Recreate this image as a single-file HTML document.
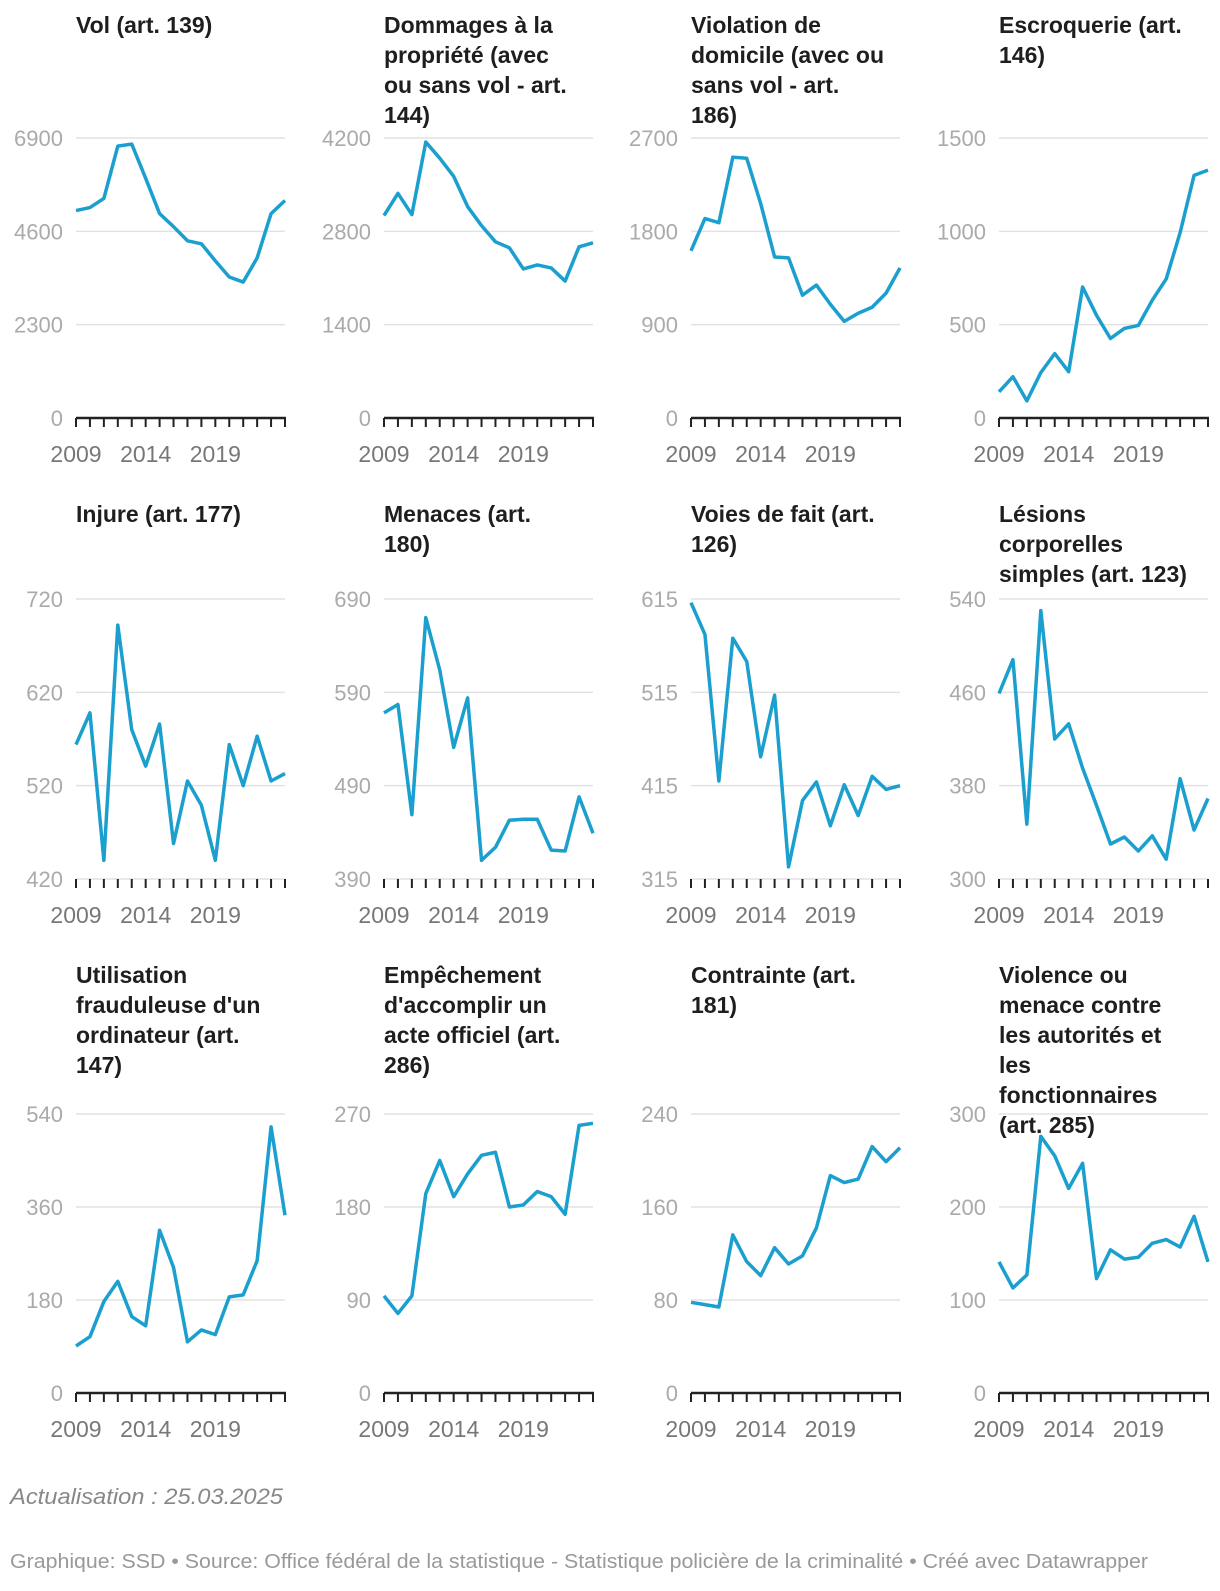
<!DOCTYPE html>
<html><head><meta charset="utf-8"><style>
body{margin:0;background:#fff;width:1220px;height:1586px;overflow:hidden;font-family:"Liberation Sans",sans-serif}
svg text{font-family:"Liberation Sans",sans-serif}
</style></head><body>
<svg id="chart" width="1220" height="1586" xmlns="http://www.w3.org/2000/svg">
<text x="10" y="1504" font-size="22" font-style="italic" fill="#888" textLength="273" lengthAdjust="spacingAndGlyphs">Actualisation : 25.03.2025</text>
<text x="10" y="1568" font-size="20" fill="#999" textLength="1138" lengthAdjust="spacingAndGlyphs">Graphique: SSD • Source: Office fédéral de la statistique - Statistique policière de la criminalité • Créé avec Datawrapper</text>
</svg>
<script>
const years=[2009,2010,2011,2012,2013,2014,2015,2016,2017,2018,2019,2020,2021,2022,2023,2024];
const yearLabels=[2009,2014,2019];
const titles=[
["Vol (art. 139)"],
["Dommages à la","propriété (avec","ou sans vol - art.","144)"],
["Violation de","domicile (avec ou","sans vol - art.","186)"],
["Escroquerie (art.","146)"],
["Injure (art. 177)"],
["Menaces (art.","180)"],
["Voies de fait (art.","126)"],
["Lésions","corporelles","simples (art. 123)"],
["Utilisation","frauduleuse d'un","ordinateur (art.","147)"],
["Empêchement","d'accomplir un","acte officiel (art.","286)"],
["Contrainte (art.","181)"],
["Violence ou","menace contre","les autorités et","les","fonctionnaires","(art. 285)"]];
const ticks=[[0,2300,4600,6900],[0,1400,2800,4200],[0,900,1800,2700],[0,500,1000,1500],
[420,520,620,720],[390,490,590,690],[315,415,515,615],[300,380,460,540],
[0,180,360,540],[0,90,180,270],[0,80,160,240],[0,100,200,300]];
const vol=[5112,5186,5410,6700,6750,5906,5037,4715,4367,4293,3871,3474,3350,3945,5037,5360];
const dommages=[3036,3369,3051,4139,3897,3625,3172,2885,2643,2553,2236,2296,2251,2054,2568,2628];
const violation=[1612,1923,1883,2515,2505,2068,1553,1544,1184,1282,1097,932,1010,1068,1204,1447];
const escroquerie=[140,221,92,243,345,248,702,550,426,480,496,631,745,993,1300,1328];
const injure=[564,598,440,692,580,541,586,458,525,499,440,564,520,573,525,533];
const menaces=[568,577,459,670,614,531,584,410,424,453,454,454,421,420,478,439];
const voies=[611,577,420,573,548,446,512,328,399,419,372,416,383,425,411,415];
const lesions=[459,488,347,530,420,433,395,363,330,336,324,337,317,386,342,369];
const utilisation=[91,109,177,216,148,130,315,243,99,122,113,186,190,256,515,344];
const empechement=[94,77,94,193,225,190,212,230,233,180,182,195,190,173,259,261];
const contrainte=[78,76,74,136,113,101,125,111,118,142,187,181,184,212,199,211];
const violence=[141,113,127,276,255,220,247,123,154,144,146,161,165,157,190,141];
const series=[vol,dommages,violation,escroquerie,injure,menaces,voies,lesions,utilisation,empechement,contrainte,violence];
const NS="http://www.w3.org/2000/svg";
const svg=document.getElementById('chart');
function mk(tag,attrs,parent){const e=document.createElementNS(NS,tag);for(const k in attrs)e.setAttribute(k,attrs[k]);(parent||svg).appendChild(e);return e;}
const baseY=[418,879,1393],topY=[138,599,1114],titleY=[33,522,983];
const colX=[76,384,691,999];
series.forEach((data,i)=>{
  const col=i%4,row=Math.floor(i/4);
  const x0=colX[col],x1=x0+209,yb=baseY[row],yt=topY[row];
  const tk=ticks[i],mn=tk[0],mx=tk[3];
  const xs=yr=>x0+(yr-2009)*(x1-x0)/15;
  const ys=v=>yb-(v-mn)/(mx-mn)*(yb-yt);
  const g=mk('g',{});
  
  
  tk.forEach((v,j)=>{
    const gl=mk('line',{x1:x0,x2:x1,y1:ys(v),y2:ys(v),stroke:'#e2e2e2','stroke-width':1.5},g);
    
    
    const l=mk('text',{x:x0-13,y:ys(v)+8,'font-size':22,fill:'#aaa','text-anchor':'end'},g);
    
    
    l.textContent=v;
  });
  if(mn===0){const ax=mk('line',{x1:x0,x2:x1+1,y1:yb,y2:yb,stroke:'#222','stroke-width':2.5},g);
    
    }
  years.forEach(yr=>{const tm=mk('line',{x1:xs(yr),x2:xs(yr),y1:yb,y2:yb+9,stroke:'#222','stroke-width':2},g);
    
    });
  yearLabels.forEach(yr=>{const l=mk('text',{x:xs(yr),y:yb+44,'font-size':23,fill:'#777','text-anchor':'middle'},g);
    
    
    l.textContent=yr;});
  const p=mk('polyline',{points:data.map((v,k)=>xs(years[k])+','+ys(v)).join(' '),fill:'none',stroke:'#1a9fcf','stroke-width':3.5,'stroke-linejoin':'round'},g);
  
  
  const t=mk('text',{x:x0,y:titleY[row],'font-size':23,'font-weight':'bold',fill:'#1e1e1e'},g);
  
  
  titles[i].forEach((l,j)=>{const s=mk('tspan',{x:x0,dy:j?30:0},t);s.textContent=l;});
});
</script>
</body></html>
